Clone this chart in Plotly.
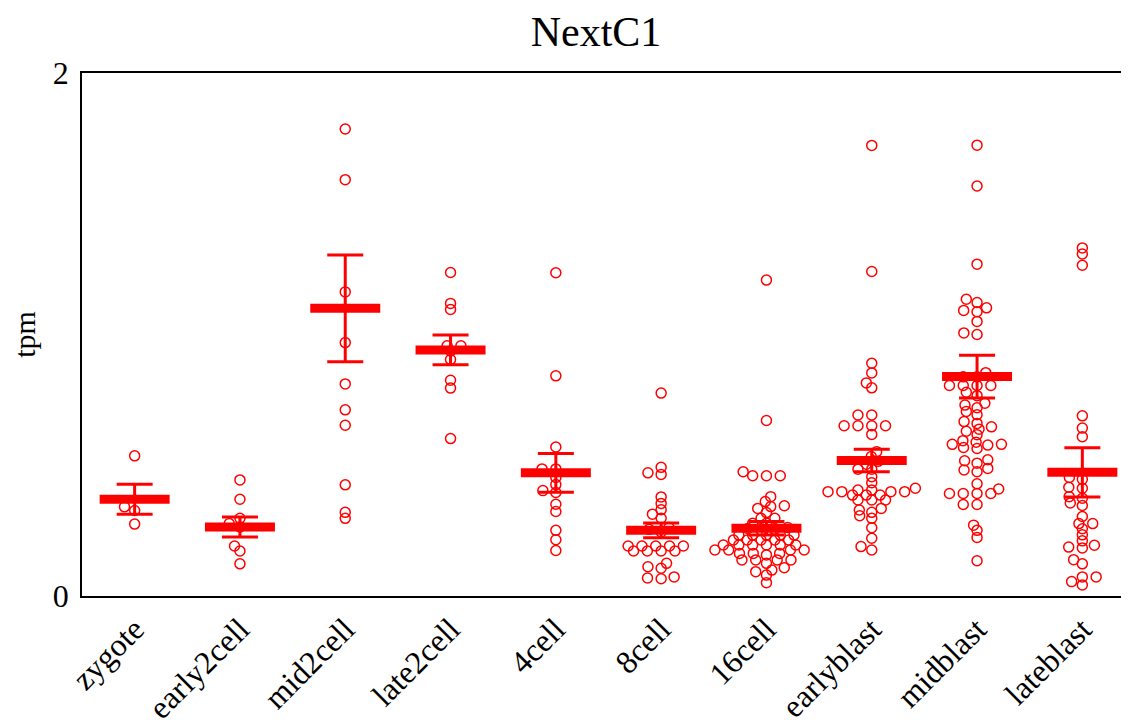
import math
import numpy as np
import plotly.graph_objects as go

title = "NextC1"
y_title = "tpm"
categories = ["zygote", "early2cell", "mid2cell", "late2cell", "4cell",
              "8cell", "16cell", "earlyblast", "midblast", "lateblast"]

zygote = [0.536, 0.341, 0.327, 0.275]
early2cell = [0.444, 0.370, 0.297, 0.277, 0.264, 0.191, 0.172, 0.123]
mid2cell = [1.786, 1.592, 1.163, 0.969, 0.811, 0.712, 0.653, 0.425, 0.320, 0.297]
late2cell = [1.237, 1.119, 1.096, 0.957, 0.957, 0.937, 0.904, 0.825, 0.795, 0.602]
cell4 = [1.236, 0.842, 0.570, 0.486, 0.486, 0.453, 0.426, 0.403, 0.396, 0.351,
         0.323, 0.251, 0.215, 0.174]
cell8 = [0.776, 0.492, 0.471, 0.465, 0.379, 0.354, 0.330, 0.313, 0.297, 0.262,
         0.255, 0.245, 0.191, 0.191, 0.191, 0.191, 0.191, 0.172, 0.172, 0.172,
         0.172, 0.125, 0.112, 0.106, 0.073, 0.069, 0.066]
cell16 = [1.208, 0.671, 0.475, 0.460, 0.460, 0.460, 0.380, 0.361, 0.345, 0.342,
          0.335, 0.319, 0.297, 0.297, 0.278, 0.278, 0.262, 0.258, 0.255, 0.252,
          0.233, 0.233, 0.233, 0.233, 0.233, 0.214, 0.214, 0.214, 0.214, 0.214,
          0.195, 0.195, 0.195, 0.195, 0.195, 0.195, 0.176, 0.176, 0.176, 0.176,
          0.163, 0.163, 0.163, 0.157, 0.138, 0.138, 0.138, 0.138, 0.125, 0.108,
          0.099, 0.093, 0.080, 0.051]
earlyblast = [1.723, 1.241, 0.890, 0.853, 0.815, 0.796, 0.692, 0.692, 0.651, 0.651,
              0.651, 0.651, 0.618, 0.552, 0.533, 0.515, 0.504, 0.485, 0.485, 0.456,
              0.433, 0.412, 0.405, 0.405, 0.399, 0.399, 0.399, 0.399, 0.386, 0.386,
              0.386, 0.367, 0.367, 0.367, 0.335, 0.329, 0.320, 0.307, 0.297, 0.261,
              0.221, 0.189, 0.176]
midblast = [1.724, 1.568, 1.269, 1.135, 1.122, 1.102, 1.092, 1.087, 1.050, 1.006,
            1.000, 0.854, 0.838, 0.838, 0.805, 0.805, 0.805, 0.805, 0.779, 0.766,
            0.737, 0.730, 0.720, 0.706, 0.693, 0.667, 0.660, 0.647, 0.638, 0.630,
            0.617, 0.594, 0.588, 0.580, 0.580, 0.577, 0.568, 0.564, 0.521, 0.517,
            0.508, 0.488, 0.482, 0.475, 0.429, 0.409, 0.392, 0.392, 0.392, 0.392,
            0.350, 0.350, 0.271, 0.251, 0.224, 0.135]
lateblast = [1.331, 1.308, 1.265, 0.689, 0.642, 0.609, 0.453, 0.446, 0.416, 0.412,
             0.380, 0.374, 0.356, 0.346, 0.304, 0.277, 0.277, 0.257, 0.234, 0.211,
             0.194, 0.187, 0.184, 0.139, 0.123, 0.073, 0.073, 0.055, 0.042]

means = [0.370, 0.264, 1.100, 0.941, 0.471, 0.251, 0.259, 0.518, 0.839, 0.473]
sems = [0.057, 0.038, 0.204, 0.057, 0.074, 0.028, 0.026, 0.043, 0.082, 0.094]

groups = [zygote, early2cell, mid2cell, late2cell, cell4, cell8, cell16,
          earlyblast, midblast, lateblast]

# layout geometry (pixels); the page body adds an 8px margin on top/left
PAGE = 8
W, H = 1129 - PAGE, 720 - PAGE
M_L, M_R, M_T = 82 - PAGE, 0, 73 - PAGE
PLOT_H = 523
M_B = H - M_T - PLOT_H
Y_RANGE = [0, 2]
CAT_PX = 105.3
X_RANGE = [-0.5, -0.5 + (W - M_L - M_R) / CAT_PX]
PX_PER_Y = PLOT_H / (Y_RANGE[1] - Y_RANGE[0])
RED = "#ff0000"


def swarm(vals, dx_min=13.8, dy_min=5.4):
    """Beeswarm offsets (pixels); anisotropic spacing so rows can interleave."""
    ys = np.asarray(vals, dtype=float) * PX_PER_Y
    order = np.argsort(ys, kind="stable")
    placed = []
    xs = np.zeros(len(ys))

    def clash(c, y):
        for px, py in placed:
            if ((c - px) / dx_min) ** 2 + ((y - py) / dy_min) ** 2 < 1 - 1e-6:
                return True
        return False

    for i in order:
        y = ys[i]
        cands = [0.0]
        for px, py in placed:
            dy = abs(py - y)
            if dy < dy_min:
                dx = dx_min * math.sqrt(1 - (dy / dy_min) ** 2)
                cands += [px - dx, px + dx]
        cands.sort(key=lambda c: (round(abs(c), 6), c))
        for c in cands:
            if not clash(c, y):
                xs[i] = c
                break
        placed.append((xs[i], y))
    return xs


fig = go.Figure()

px_all, py_all = [], []
for gi, vals in enumerate(groups):
    offs = swarm(vals)
    px_all += list(gi + offs / CAT_PX)
    py_all += list(vals)

fig.add_trace(go.Scatter(
    x=px_all, y=py_all, mode="markers",
    marker=dict(symbol="circle-open", size=10, color=RED,
                line=dict(color=RED, width=1.5)),
    showlegend=False, hoverinfo="skip"))

fig.add_trace(go.Scatter(
    x=list(range(len(categories))), y=means, mode="markers",
    marker=dict(symbol="line-ew", size=50, color=RED,
                line=dict(color=RED, width=9)),
    error_y=dict(type="data", array=sems, color=RED, thickness=3, width=18),
    showlegend=False, hoverinfo="skip"))

FONT = "Liberation Serif, Times New Roman, serif"

fig.update_layout(
    width=W, height=H,
    margin=dict(l=M_L, r=M_R, t=M_T, b=M_B, pad=0, autoexpand=False),
    paper_bgcolor="white", plot_bgcolor="white",
    font=dict(family=FONT, size=30, color="black"),
    title=dict(text=title, x=(596 - PAGE) / W, xref="container", xanchor="center",
               y=1 - (31 - PAGE) / H, yref="container", yanchor="middle",
               font=dict(family=FONT, size=42, color="black")),
    xaxis=dict(range=X_RANGE, tickvals=list(range(len(categories))),
               ticktext=categories, tickangle=-45, showgrid=False,
               zeroline=False, showline=True, linecolor="black", linewidth=1.5,
               mirror=True, ticks="", tickfont=dict(size=32), automargin=False),
    yaxis=dict(range=Y_RANGE, tickvals=[0, 2], showgrid=False, zeroline=False,
               showline=True, linecolor="black", linewidth=1.5, ticks="",
               ticklabelstandoff=5, tickfont=dict(size=32), automargin=False,
               title=dict(text=y_title, font=dict(size=30), standoff=9)),
)

fig.write_html("out.html")
